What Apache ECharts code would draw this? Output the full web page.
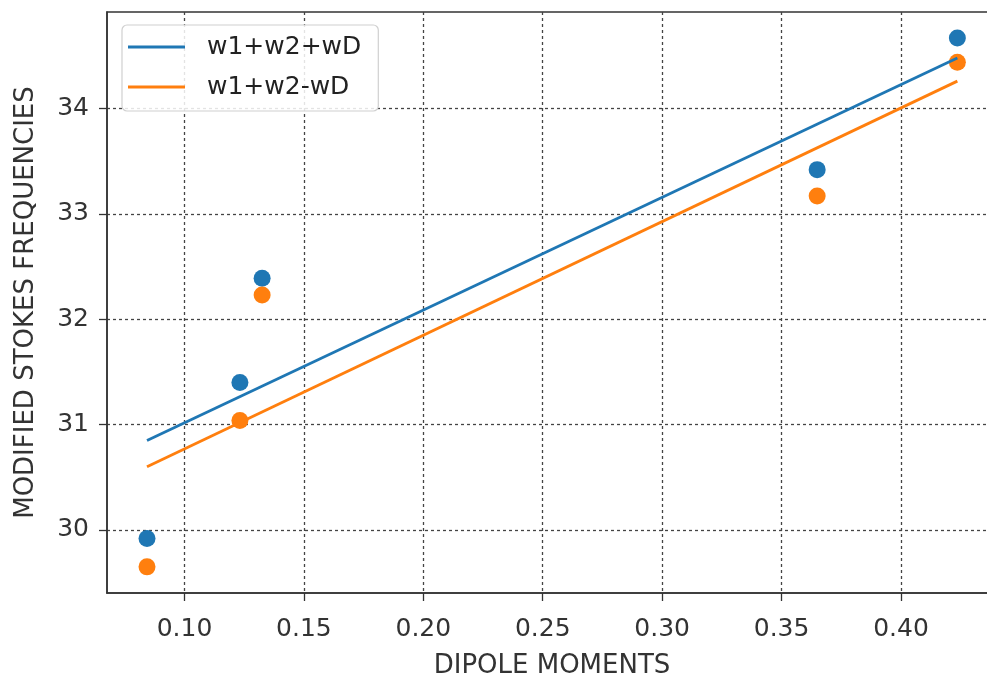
<!DOCTYPE html>
<html>
<head>
<meta charset="utf-8">
<script src="https://cdn.jsdelivr.net/npm/echarts@6/dist/echarts.min.js"></script>
<style>
  html, body { margin: 0; padding: 0; background: #fff; overflow: hidden; }
  #chart { width: 987px; height: 675px; }
</style>
</head>
<body>
<div id="chart"></div>
<script>
// Dipole moments and the two modified Stokes frequency branches
const dipole = [0.0843, 0.1232, 0.1325, 0.3649, 0.4236];
const freqPlus = [29.92, 31.40, 32.39, 33.42, 34.67];
const freqMinus = [29.65, 31.04, 32.23, 33.17, 34.44];

// Straight-line fits, given by their two end points
const fitX = [0.0843, 0.4236];
const fitPlus = [30.85, 34.48];
const fitMinus = [30.60, 34.26];

// Axis ticks
const xTicks = [0.10, 0.15, 0.20, 0.25, 0.30, 0.35, 0.40];
const yTicks = [30, 31, 32, 33, 34];

const seriesNames = ['w1+w2+wD', 'w1+w2-wD'];
const BLUE = '#1f77b4';
const ORANGE = '#ff7f0e';
const FONT = 'DejaVu Sans';

const zip = (xs, ys) => xs.map((x, i) => [x, ys[i]]);

const chart = echarts.init(document.getElementById('chart'), null, { renderer: 'canvas' });

const tickText = { color: '#333', fontFamily: FONT, fontSize: 25 };
const titleText = { color: '#333', fontFamily: FONT, fontSize: 26 };
const gridLine = { color: '#444', width: 1.3, type: [3, 3] };

chart.setOption({
  animation: false,
  backgroundColor: '#fff',
  grid: {
    left: 107, top: 12, right: -10, bottom: 82,
    outerBoundsMode: 'none',
    containLabel: false,
    show: true, borderColor: '#333', borderWidth: 1.5, backgroundColor: '#fff'
  },
  legend: {
    data: seriesNames.map(n => ({ name: n, icon: 'rect' })),
    orient: 'vertical',
    left: 122, top: 25,
    padding: [8, 17, 10, 6],
    itemWidth: 57, itemHeight: 3, itemGap: 12,
    backgroundColor: 'rgba(255,255,255,0.85)',
    borderColor: '#d0d0d0', borderWidth: 1.2, borderRadius: 5,
    textStyle: { color: '#222', fontFamily: FONT, fontSize: 25, lineHeight: 28, padding: [0, 0, 0, 17] }
  },
  xAxis: {
    type: 'value',
    min: 0.06755, max: 0.4402,
    name: 'DIPOLE MOMENTS',
    nameLocation: 'middle', nameGap: 60,
    nameTextStyle: titleText,
    axisLine: { show: true, onZero: false, lineStyle: { color: '#333', width: 1.5 } },
    axisTick: { show: true, customValues: xTicks, length: 8, lineStyle: { color: '#333', width: 1.3 } },
    axisLabel: { customValues: xTicks, margin: 24, formatter: v => v.toFixed(2), ...tickText },
    splitLine: { show: true, lineStyle: gridLine }
  },
  yAxis: {
    type: 'value',
    min: 29.402, max: 34.916,
    name: 'MODIFIED STOKES FREQUENCIES',
    nameLocation: 'middle', nameGap: 68,
    nameTextStyle: titleText,
    axisLine: { show: true, onZero: false, lineStyle: { color: '#333', width: 1.5 } },
    axisTick: { show: true, customValues: yTicks, length: 8, lineStyle: { color: '#333', width: 1.3 } },
    axisLabel: { customValues: yTicks, margin: 18, formatter: v => String(Math.round(v)), ...tickText },
    splitLine: { show: true, lineStyle: gridLine }
  },
  series: [
    {
      name: 'points-plus', type: 'scatter', z: 2,
      data: zip(dipole, freqPlus),
      symbolSize: 17, itemStyle: { color: BLUE, opacity: 1 }
    },
    {
      name: 'points-minus', type: 'scatter', z: 2,
      data: zip(dipole, freqMinus),
      symbolSize: 17, itemStyle: { color: ORANGE, opacity: 1 }
    },
    {
      name: seriesNames[0], type: 'line', z: 3,
      data: zip(fitX, fitPlus),
      symbol: 'none', lineStyle: { color: BLUE, width: 2.8 }, itemStyle: { color: BLUE }
    },
    {
      name: seriesNames[1], type: 'line', z: 3,
      data: zip(fitX, fitMinus),
      symbol: 'none', lineStyle: { color: ORANGE, width: 2.8 }, itemStyle: { color: ORANGE }
    }
  ]
});
</script>
</body>
</html>
